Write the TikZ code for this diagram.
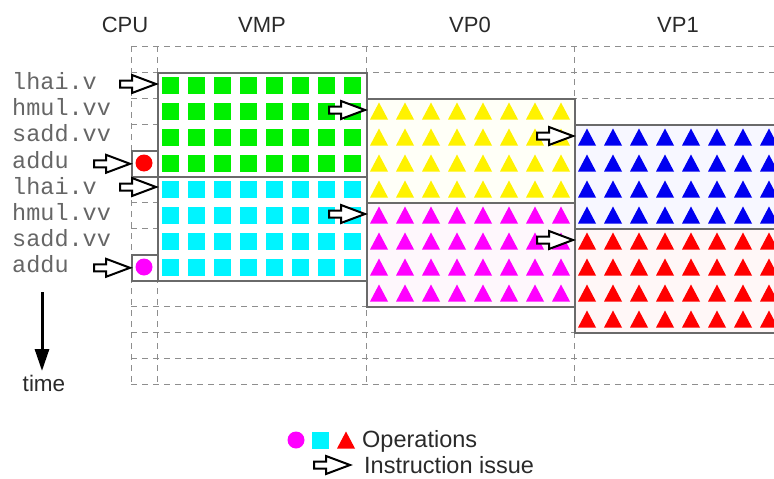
\documentclass[tikz,border=0pt]{standalone}
\usepackage{fontspec}
\setmainfont{Liberation Sans}
\newfontfamily\monof{Liberation Mono}
\usetikzlibrary{arrows.meta}
\definecolor{gridgray}{HTML}{8E8E8E}
\definecolor{boxgray}{HTML}{6A6A6A}
\definecolor{labgray}{HTML}{666666}
\definecolor{txtc}{HTML}{2A2A2A}
\definecolor{opgreen}{HTML}{00F000}
\definecolor{opcyan}{HTML}{00F4FF}
\definecolor{opyellow}{HTML}{FFF200}
\definecolor{opmagenta}{HTML}{FF00FF}
\definecolor{opblue}{HTML}{0000F0}
\definecolor{opred}{HTML}{FF0000}
\begin{document}
\begin{tikzpicture}[x=1pt,y=-1pt,
  gridline/.style={draw=gridgray,line width=0.9pt,dash pattern=on 6pt off 5pt},
  opbox/.style={draw=boxgray,line width=1.6pt,rectangle,inner sep=0pt,anchor=north west},
  sqop/.style={fill=#1,rectangle,minimum size=17pt,inner sep=0pt,draw=none},
  dotop/.style={fill=#1,circle,minimum size=17pt,inner sep=0pt,draw=none},
  instr/.style={font=\monof\fontsize{23.5}{27}\selectfont,text=labgray,anchor=base west,inner sep=0pt},
  head/.style={font=\fontsize{22}{26}\selectfont,text=txtc,anchor=base,inner sep=0pt},
  legtext/.style={font=\fontsize{23.5}{28}\selectfont,text=txtc,anchor=base west,inner sep=0pt},
  issue/.pic={\draw[black,line width=2pt,fill=white,line join=miter]
     (-1,0) -- (-25,-9) -- (-25,-3.5) -- (-37,-3.5) -- (-37,3.5) -- (-25,3.5) -- (-25,9) -- cycle;}
]
\useasboundingbox (0,0) rectangle (774,479);
\clip (0,0) rectangle (774,479);

% headers
\node[head] (hcpu) at (125,32) {CPU};
\node[head] (hvmp) at (262,32) {VMP};
\node[head] (hvp0) at (470,32) {VP0};
\node[head] (hvp1) at (678,32) {VP1};

% dashed grid
\foreach \k in {0,...,13} {
  \draw[gridline] (131,46+26*\k) -- (790,46+26*\k);
}
\foreach \xx in {131,157,366,574} {
  \draw[gridline] (\xx,46) -- (\xx,384);
}

% boxes
\node[opbox,fill=white,minimum width=26pt,minimum height=26pt] (cpuA) at (131,150) {};
\node[opbox,fill=white,minimum width=26pt,minimum height=26pt] (cpuB) at (131,254) {};
\node[opbox,fill=white,minimum width=209pt,minimum height=104pt] (vmpA) at (157,72) {};
\node[opbox,fill=white,minimum width=209pt,minimum height=104pt] (vmpB) at (157,176) {};
\node[opbox,fill=yellow!3,minimum width=208pt,minimum height=104pt] (vpzA) at (366,98) {};
\node[opbox,fill=magenta!3,minimum width=208pt,minimum height=104pt] (vpzB) at (366,202) {};
\node[opbox,fill=blue!3,minimum width=230pt,minimum height=104pt] (vpoA) at (574,124) {};
\node[opbox,fill=red!3,minimum width=230pt,minimum height=104pt] (vpoB) at (574,228) {};

% CPU operations
\node[dotop=opred] (opc1) at (144,163) {};
\node[dotop=opmagenta] (opc2) at (144,267) {};

% VMP operations
\foreach \c in {0,...,7} {
  \foreach \r in {0,...,3} {
    \node[sqop=opgreen] at (170+26*\c,85+26*\r) {};
    \node[sqop=opcyan] at (170+26*\c,189+26*\r) {};
  }
}
% VP0 and VP1 operations
\foreach \c in {0,...,7} {
  \foreach \r in {0,...,3} {
    \fill[opyellow] (370+26*\c,119.5+26*\r) -- ++(18,0) -- ++(-9,-17) -- cycle;
    \fill[opmagenta] (370+26*\c,223.5+26*\r) -- ++(18,0) -- ++(-9,-17) -- cycle;
    \fill[opblue] (578+26*\c,145.5+26*\r) -- ++(18,0) -- ++(-9,-17) -- cycle;
    \fill[opred] (578+26*\c,249.5+26*\r) -- ++(18,0) -- ++(-9,-17) -- cycle;
  }
}

% instruction labels
\node[instr] (i1) at (12,89) {lhai.v};
\node[instr] (i2) at (12,115) {hmul.vv};
\node[instr] (i3) at (12,141) {sadd.vv};
\node[instr] (i4) at (12,168) {addu};
\node[instr] (i5) at (12,194) {lhai.v};
\node[instr] (i6) at (12,220) {hmul.vv};
\node[instr] (i7) at (12,246) {sadd.vv};
\node[instr] (i8) at (12,272) {addu};

% instruction issue arrows
\pic at (vmpA.west |- 0,84) {issue};
\pic at (vpzA.west |- 0,110) {issue};
\pic at (vpoA.west |- 0,136) {issue};
\pic at (cpuA.west) {issue};
\pic at (vmpB.west |- 0,187) {issue};
\pic at (vpzB.west |- 0,214) {issue};
\pic at (vpoB.west |- 0,240) {issue};
\pic at (cpuB.west) {issue};

% time arrow
\coordinate (tstart) at (42,292);
\node[font=\fontsize{22.5}{27}\selectfont,text=txtc,anchor=base,inner sep=0pt] (timelab) at (44,391) {time};
\draw[line width=3pt,-{Triangle[width=14pt,length=22pt]}] (tstart) -- (42,371);

% legend
\node[dotop=opmagenta] (lg1) at (296,440) {};
\node[sqop=opcyan] (lg2) at (320,440) {};
\fill[opred] (337,448.5) -- ++(18,0) -- ++(-9,-17) -- cycle;
\node[legtext] (lgops) at (362,447) {Operations};
\pic at (351,465) {issue};
\node[legtext] (lgiss) at (364,473) {Instruction issue};
\end{tikzpicture}
\end{document}
